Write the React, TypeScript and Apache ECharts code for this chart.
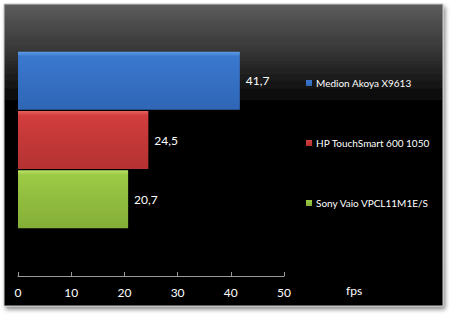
import React, { useEffect, useRef } from "react";
import * as echarts from "echarts";

const seriesNames = ["Medion Akoya X9613", "HP TouchSmart 600 1050", "Sony Vaio VPCL11M1E/S"];
const seriesValues = [41.7, 24.5, 20.7];
const seriesColors = [
  ["#5d9ae6", "#3a78cf", "#2f66b5"],
  ["#e86060", "#d23d3d", "#b43232"],
  ["#bde36a", "#9cca45", "#84ae37"],
];
const xTicks = [0, 10, 20, 30, 40, 50];
const axisUnit = "fps";

export default function App() {
  const ref = useRef<HTMLDivElement>(null);
  useEffect(() => {
    const chart = echarts.init(ref.current!, null, { renderer: "svg" });
    const font = "Lato, 'Liberation Sans', sans-serif";
    chart.setOption({
      animation: false,
      backgroundColor: "#ffffff",
      graphic: [
        {
          type: "rect",
          z: -10,
          shape: { x: 4, y: 4, width: 439, height: 302 },
          style: {
            fill: new echarts.graphic.LinearGradient(0, 0, 0, 1, [
              { offset: 0, color: "#5c5c5c" },
              { offset: 0.14, color: "#3a3a3a" },
              { offset: 0.32, color: "#060606" },
              { offset: 1, color: "#000000" },
            ]),
            stroke: "#c8c8c8",
            lineWidth: 1,
            shadowBlur: 4,
            shadowOffsetX: 2,
            shadowOffsetY: 3,
            shadowColor: "rgba(0,0,0,0.45)",
          },
        },
      ],
      legend: {
        orient: "vertical",
        left: 301,
        top: 71,
        itemWidth: 6,
        itemHeight: 6,
        itemGap: 46,
        icon: "rect",
        textStyle: { color: "#ffffff", fontSize: 10, lineHeight: 14, fontFamily: font, padding: [0, 0, 0, -1] },
        data: seriesNames,
      },
      grid: { left: 18, right: 166, top: 4, bottom: 39 },
      xAxis: {
        type: "value",
        min: 0,
        max: 50,
        interval: 10,
        name: axisUnit,
        nameLocation: "end",
        nameGap: 62,
        nameTextStyle: { color: "#ffffff", fontSize: 12, fontFamily: font, verticalAlign: "top", padding: [8, 0, 0, 0] },
        axisLine: { show: true, lineStyle: { color: "#9a9a9a", width: 1 } },
        axisTick: { show: true, inside: true, length: 4, lineStyle: { color: "#9a9a9a" } },
        splitLine: { show: false },
        axisLabel: {
          color: "#ffffff",
          fontSize: 12,
          fontFamily: font,
          margin: 10,
          customValues: xTicks,
        },
      },
      yAxis: {
        type: "category",
        data: [""],
        axisLine: { show: false },
        axisTick: { show: false },
        axisLabel: { show: false },
      },
      series: seriesNames.map((name, i) => ({
        name,
        type: "bar",
        data: [seriesValues[i]],
        barWidth: 58,
        barGap: "2%",
        itemStyle: {
          color: new echarts.graphic.LinearGradient(0, 0, 0, 1, [
            { offset: 0, color: seriesColors[i][0] },
            { offset: 0.08, color: seriesColors[i][1] },
            { offset: 1, color: seriesColors[i][2] },
          ]),
        },
        label: {
          show: true,
          position: "right",
          distance: 6,
          color: "#ffffff",
          fontSize: 12,
          fontFamily: font,
          formatter: (p: any) => String(p.value).replace(".", ","),
        },
      })),
    });
    return () => chart.dispose();
  }, []);
  return <div ref={ref} style={{ position: "fixed", left: 0, top: 0, width: 450, height: 315 }} />;
}
